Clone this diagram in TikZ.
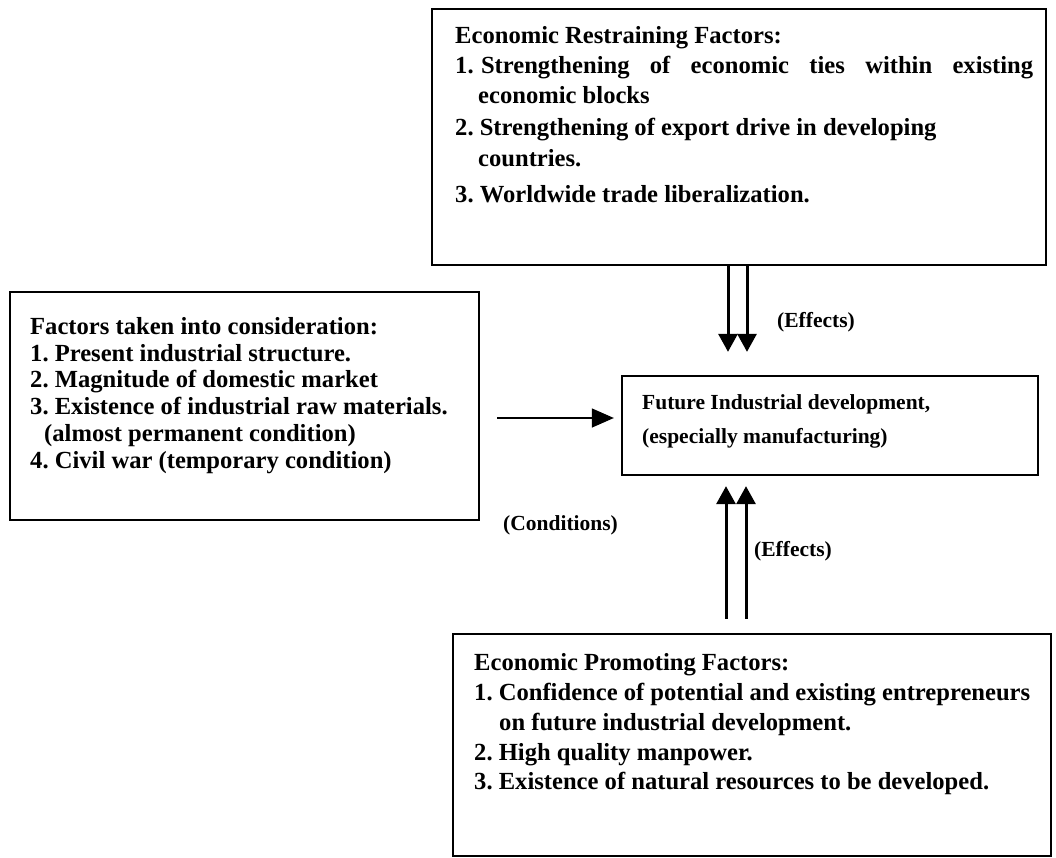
\documentclass[tikz,border=0pt]{standalone}
\usepackage{fontspec}
\setmainfont{Liberation Serif}
\usetikzlibrary{arrows.meta}
\begin{document}
\frenchspacing
\begin{tikzpicture}[x=1pt,y=-1pt,
  frame/.style={draw, line width=2.3pt, inner sep=0pt},
  txt/.style={anchor=west, inner sep=0pt, font=\fontsize{24.6}{28}\selectfont\bfseries,
    text height=17pt, text depth=5pt},
  small/.style={txt, font=\fontsize{21.5}{25}\selectfont\bfseries,
    text height=15pt, text depth=5pt},
  effect/.style={line width=3pt, -{Triangle[width=19pt,length=18pt]}},
  feed/.style={line width=1.3pt, -{Triangle[width=19pt,length=22pt]}}]
\useasboundingbox[fill=white] (0,0) rectangle (1056,858);

% frames
\node[frame, minimum width=614pt, minimum height=256pt] (restrain) at (739,137) {};
\node[frame, minimum width=469pt, minimum height=228pt] (factors) at (244.5,406) {};
\node[frame, minimum width=416pt, minimum height=99pt] (future) at (830,425.5) {};
\node[frame, minimum width=598pt, minimum height=222pt] (promote) at (752,745) {};

% restraining factors
\node[txt] (r0) at (455,38) {Economic Restraining Factors:};
\node[txt] (r1) at (455,68) {\makebox[578pt][s]{1.\hspace{0.3em}Strengthening of economic ties within existing}};
\node[txt] (r1b) at (478,98) {economic blocks};
\node[txt] (r2) at (455,130) {2. Strengthening of export drive in developing};
\node[txt] (r2b) at (478,161) {countries.};
\node[txt] (r3) at (455,197) {3. Worldwide trade liberalization.};

% factors taken into consideration
\node[txt] (f0) at (30,328) {Factors taken into consideration:};
\node[txt] (f1) at (30,355) {1. Present industrial structure.};
\node[txt] (f2) at (30,381) {2. Magnitude of domestic market};
\node[txt] (f3) at (30,408) {3. Existence of industrial raw materials.};
\node[txt] (f3b) at (44,435) {(almost permanent condition)};
\node[txt] (f4) at (30,462) {4. Civil war (temporary condition)};

% central box
\node[small] (c0) at (642,404) {Future Industrial development,};
\node[small] (c1) at (642,438) {(especially manufacturing)};

% promoting factors
\node[txt] (p0) at (474,664) {Economic Promoting Factors:};
\node[txt] (p1) at (474,694) {1. Confidence of potential and existing entrepreneurs};
\node[txt] (p1b) at (499,724) {on future industrial development.};
\node[txt] (p2) at (474,754) {2. High quality manpower.};
\node[txt] (p3) at (474,783) {3. Existence of natural resources to be developed.};

% labels
\node[small] (le1) at (777,322) {(Effects)};
\node[small] (lc) at (503,525) {(Conditions)};
\node[small] (le2) at (754,551) {(Effects)};

% connectors
\coordinate (dA) at (728,0);
\coordinate (dB) at (747,0);
\coordinate (uA) at (726,0);
\coordinate (uB) at (746,0);
\coordinate (hz) at (0,418);
\draw[effect, shorten >=23pt] (restrain.south -| dA) -- (future.north -| dA);
\draw[effect, shorten >=23pt] (restrain.south -| dB) -- (future.north -| dB);
\draw[effect, shorten <=14pt, shorten >=10pt] (promote.north -| uA) -- (future.south -| uA);
\draw[effect, shorten <=14pt, shorten >=10pt] (promote.north -| uB) -- (future.south -| uB);
\draw[feed, shorten <=17pt, shorten >=7pt] (factors.east |- hz) -- (future.west |- hz);
\end{tikzpicture}
\end{document}
